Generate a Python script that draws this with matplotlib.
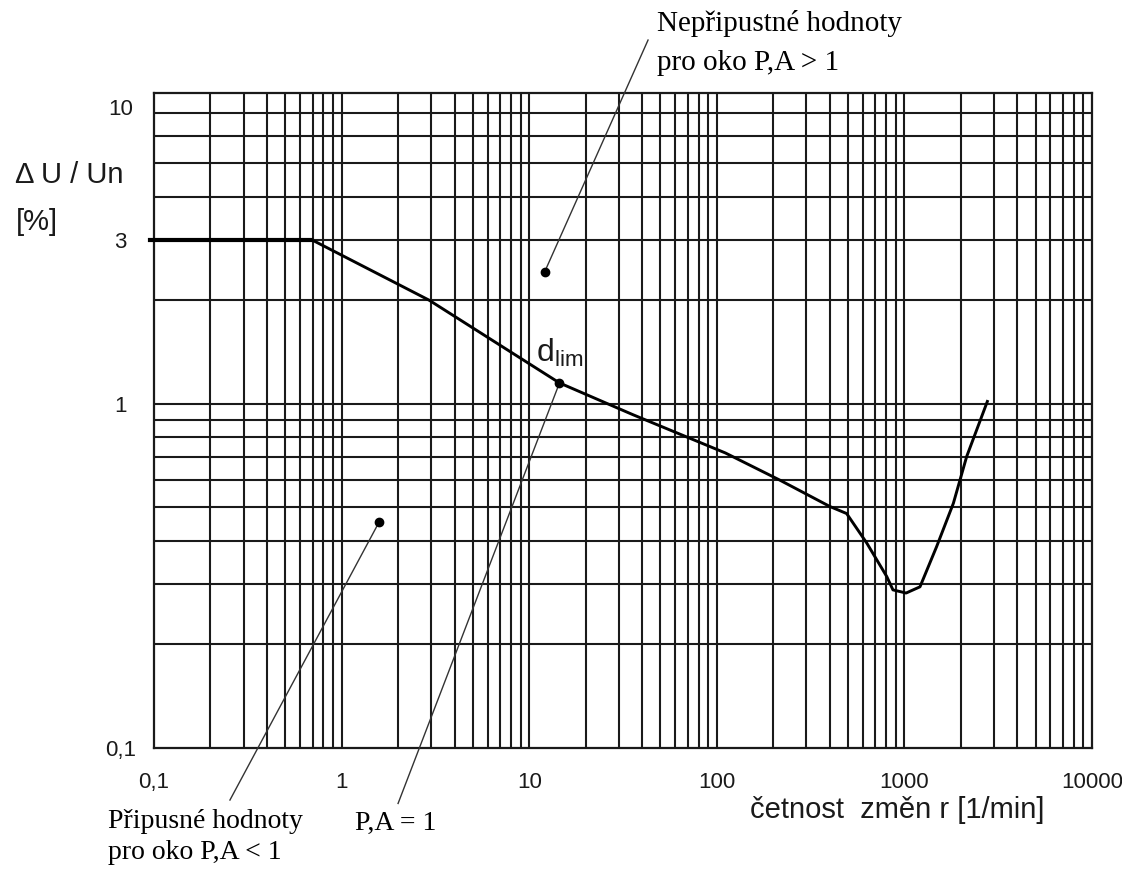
import matplotlib
matplotlib.use('Agg')
import matplotlib.pyplot as plt
from matplotlib.ticker import NullFormatter

# limit curve d_lim: rate of changes r [1/min] vs. relative voltage change [%]
rate = [0.095, 0.69, 2.93, 14.5, 35.7, 111, 217, 401, 492, 630, 805, 869,
        1021, 1211, 1486, 1824, 2148, 2768]
dU = [3.0, 3.0, 2.0, 1.15, 0.93, 0.72, 0.60, 0.503, 0.48, 0.394, 0.315, 0.288,
      0.282, 0.294, 0.385, 0.514, 0.703, 1.016]

# annotation points (dots) and the far ends of their leader lines
dot_r = [12.1, 14.5, 1.59]
dot_u = [2.42, 1.15, 0.455]
end_r = [43, 2.0, 0.254]
end_u = [11.4, 0.069, 0.0706]

x_tick_vals = [0.1, 1, 10, 100, 1000, 10000]
x_tick_labels = ['0,1', '1', '10', '100', '1000', '10000']
y_tick_vals = [0.1, 1, 3, 7.3]
y_tick_labels = ['0,1', '1', '3', '10']

SANS = 'Liberation Sans'
SERIF = 'Liberation Serif'
ink = '#1a1a1a'

W, H = 1122, 869
fig = plt.figure(figsize=(W / 100, H / 100), dpi=100)
ax = fig.add_axes([154 / W, 1 - 748 / H, 938 / W, 655 / H])
ax.set_xscale('log')
ax.set_yscale('log')
ax.set_xlim(0.1, 10000)
ax.set_ylim(0.1, 8)

# log paper grid
for d in [0.1, 1, 10, 100, 1000]:
    for k in range(1, 10):
        v = k * d
        if 0.1 < v < 10000:
            ax.axvline(v, color=ink, lw=1.5, zorder=1)
for d in [0.1, 1]:
    for k in range(1, 10):
        v = k * d
        if 0.1 < v < 8:
            ax.axhline(v, color=ink, lw=1.5, zorder=1)

for s in ax.spines.values():
    s.set_color(ink)
    s.set_linewidth(1.6)

# curve
ax.plot(rate, dU, color='black', lw=2.1, zorder=3, clip_on=False)
ax.plot(rate[:2], dU[:2], color='black', lw=3.0, zorder=3, clip_on=False)

# leader lines and dots
for r0, u0, r1, u1 in zip(dot_r, dot_u, end_r, end_u):
    ax.plot([r0, r1], [u0, u1], color='#333333', lw=1.0, zorder=4, clip_on=False)
ax.plot(dot_r, dot_u, 'o', color='black', ms=6, zorder=5, clip_on=False)

# ticks
ax.set_xticks(x_tick_vals, x_tick_labels)
ax.set_xticks([1, 10, 100, 1000], minor=True)
ax.xaxis.set_minor_formatter(NullFormatter())
ax.set_yticks(y_tick_vals, y_tick_labels)
ax.set_yticks([1], minor=True)
ax.yaxis.set_minor_formatter(NullFormatter())
ax.tick_params(which='major', length=0, labelsize=16, labelcolor=ink)
ax.tick_params(axis='x', which='major', pad=17)
ax.tick_params(axis='y', which='major', pad=24)
ax.tick_params(axis='x', which='minor', length=10, width=1.5, color=ink)
ax.tick_params(axis='y', which='minor', length=6.5, width=1.5, color=ink)
for lbl in ax.get_xticklabels() + ax.get_yticklabels():
    lbl.set_family(SANS)
for lbl in ax.get_yticklabels():
    lbl.set_ha('center')

# axis labels
ax.set_xlabel('četnost  změn r [1/min]', family=SANS, fontsize=21, color=ink,
              ha='left', va='center')
ax.xaxis.set_label_coords((750 - 154) / 938, (748 - 810) / 655)
ax.set_ylabel('Δ U / Un', family=SANS, fontsize=21, color=ink, rotation=0,
              ha='left', va='center')
ax.yaxis.set_label_coords((15 - 154) / 938, (748 - 175) / 655)
fig.text(16 / W, 1 - 222 / H, '[%]', family=SANS, fontsize=21, color=ink,
         ha='left', va='center')

ax.text(14.6, 1.41, r'$\mathregular{d_{lim}}$', family=SANS, fontsize=23,
        color=ink, ha='center', va='center')

# region labels
fig.text(657 / W, 1 - 10 / H, 'Nepřipustné hodnoty\npro oko P,A > 1',
         family=SERIF, fontsize=21, ha='left', va='top', linespacing=1.65)
fig.text(108 / W, 1 - 809 / H, 'Připusné hodnoty\npro oko P,A < 1',
         family=SERIF, fontsize=20, ha='left', va='top', linespacing=1.32)
fig.text(355 / W, 1 - 811 / H, 'P,A = 1',
         family=SERIF, fontsize=20, ha='left', va='top')

fig.savefig('out.png', dpi=100)
